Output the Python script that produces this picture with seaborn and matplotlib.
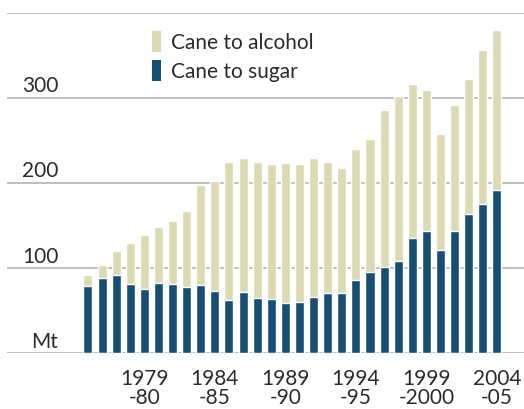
import numpy as np
import pandas as pd
import matplotlib
matplotlib.use("Agg")
import matplotlib.pyplot as plt
from matplotlib.patches import Patch
import seaborn as sns

# crop seasons 1975-76 .. 2004-05
seasons = [str(y) for y in range(1975, 2005)]
total = [92, 104, 120, 130, 139, 149, 155, 167, 198, 203,
         225, 229, 225, 222, 224, 223, 230, 225, 218, 240,
         252, 286, 303, 316, 310, 258, 292, 323, 356, 380]
sugar = [79, 89, 92, 82, 76, 83, 82, 78, 80, 73,
         63, 72, 65, 64, 59, 60, 66, 71, 71, 86,
         96, 102, 109, 136, 144, 122, 144, 164, 176, 192]
alcohol = [t - s for t, s in zip(total, sugar)]

tick_pos = [4, 9, 14, 19, 24, 29]
tick_labels = ["1979\n-80", "1984\n-85", "1989\n-90", "1994\n-95", "1999\n-2000", "2004\n-05"]
ytick_vals = [0, 100, 200, 300]
ytick_text = ["Mt", "100", "200", "300"]

tan = "#dcd9b5"
navy = "#174f72"
grid = "#b4b4b4"
txt = "#2b2b2b"

sns.set_theme(style="white")
plt.rcParams["font.family"] = ["Lato", "DejaVu Sans"]

df = pd.DataFrame({"season": seasons, "total": total, "sugar": sugar, "alcohol": alcohol})

fig = plt.figure(figsize=(5.24, 4.09), dpi=100)
ax = fig.add_axes([7 / 524, 1 - 353.3 / 409, 1 - 7 / 524, (353.3 - 13) / 409])

for v in [0, 100, 200, 300, 400]:
    ax.axhline(v, color=grid, lw=1.2, zorder=0)

sns.barplot(data=df, x="season", y="total", color=tan, width=0.64,
            saturation=1, ax=ax, zorder=2)
sns.barplot(data=df, x="season", y="sugar", color=navy, width=0.64,
            saturation=1, ax=ax, zorder=3)

ax.set_xlim(-5.74, 30.92)
ax.set_ylim(0, 400)
sns.despine(ax=ax, left=True, bottom=True, top=True, right=True)
ax.set_xlabel("")
ax.set_ylabel("")
ax.set_yticks([])
ax.set_xticks(tick_pos)
ax.set_xticklabels(tick_labels, fontsize=15, color=txt, linespacing=0.95)
ax.tick_params(axis="x", length=0, pad=11)

trans = ax.get_yaxis_transform()
for v, t in zip(ytick_vals, ytick_text):
    ax.text(0.099, v + 2, t, transform=trans, ha="right", va="bottom",
            fontsize=15, color=txt)

handles = [Patch(facecolor=tan, edgecolor="none"), Patch(facecolor=navy, edgecolor="none")]
ax.legend(handles, ["Cane to alcohol", "Cane to sugar"], loc="upper left",
          bbox_to_anchor=(152 / 524, 1 - 31 / 409), bbox_transform=fig.transFigure,
          frameon=False, fontsize=15, handlelength=0.45, handleheight=1.2,
          handletextpad=0.45, labelspacing=0.35, borderpad=0, borderaxespad=0,
          labelcolor=txt)

fig.savefig("out.png", dpi=100)
